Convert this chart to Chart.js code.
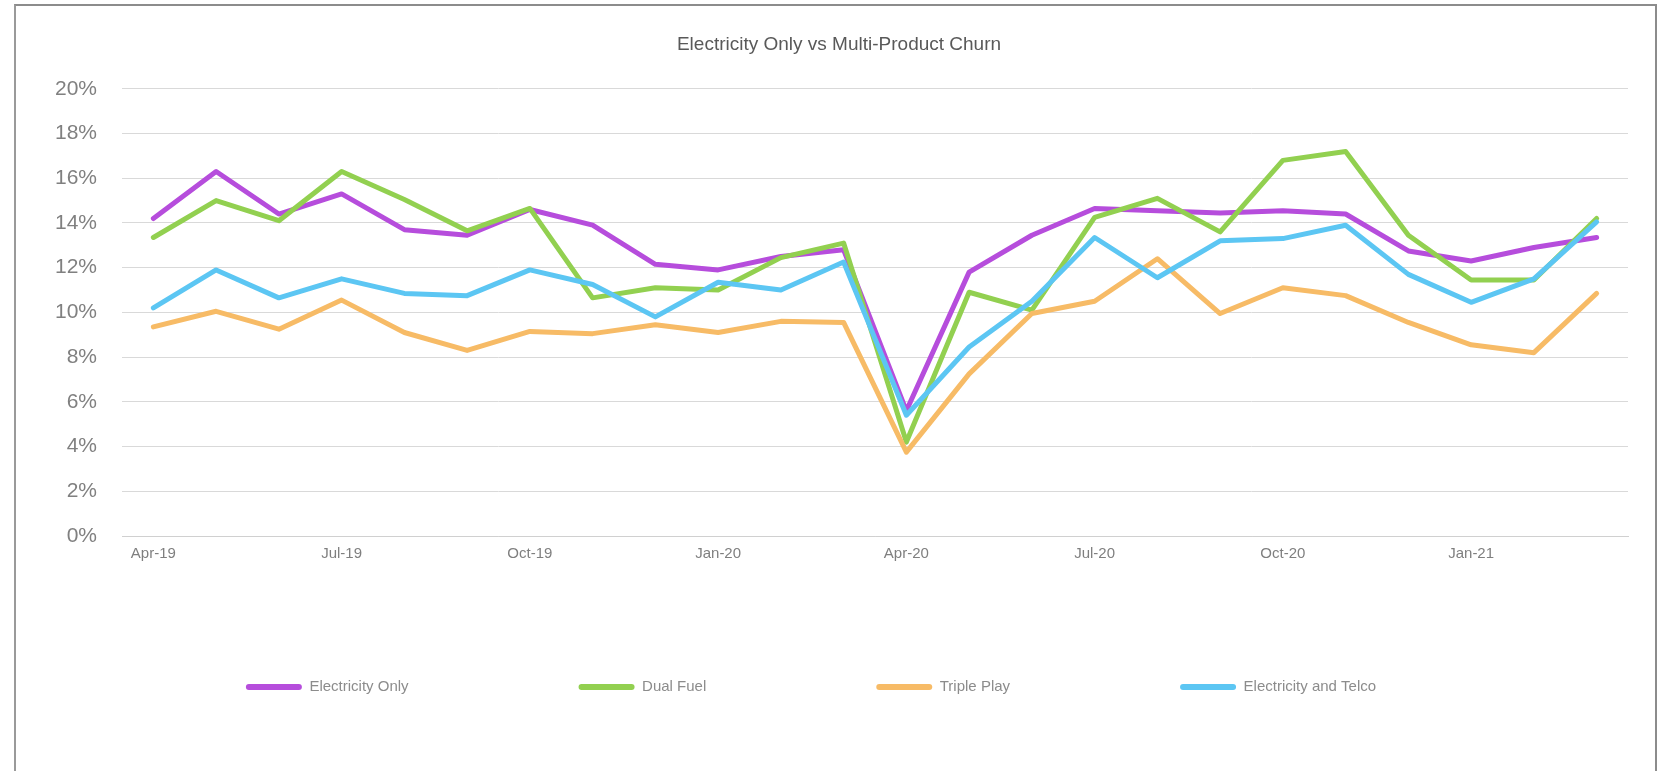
<!DOCTYPE html>
<html>
<head>
<meta charset="utf-8">
<script src="https://cdn.jsdelivr.net/npm/chart.js@4/dist/chart.umd.min.js"></script>
<style>
  html, body { margin: 0; padding: 0; background: #fff; overflow: hidden; }
  #wrap { position: relative; width: 1662px; height: 771px; }
  #frame { position: absolute; left: 14px; top: 4px; width: 1639px; height: 800px;
           border-top: 2px solid #8c8c8c; border-left: 2px solid #9a9a9a; border-right: 2px solid #8c8c8c; }
  canvas { position: absolute; left: 0; top: 0; }
</style>
</head>
<body>
<div id="wrap">
  <div id="frame"></div>
  <canvas id="grafico" width="1662" height="771"></canvas>
</div>
<script>
const meses = ['Apr-19', 'May-19', 'Jun-19', 'Jul-19', 'Aug-19', 'Sep-19', 'Oct-19', 'Nov-19',
  'Dec-19', 'Jan-20', 'Feb-20', 'Mar-20', 'Apr-20', 'May-20', 'Jun-20', 'Jul-20',
  'Aug-20', 'Sep-20', 'Oct-20', 'Nov-20', 'Dec-20', 'Jan-21', 'Feb-21', 'Mar-21'];

// churn in %
const elecOnly = [14.2, 16.3, 14.4, 15.3, 13.7, 13.45, 14.6, 13.9, 12.15, 11.9, 12.5, 12.8,
  5.6, 11.8, 13.45, 14.65, 14.55, 14.45, 14.55, 14.4, 12.75, 12.3, 12.9, 13.35];
const dualFuel = [13.35, 15.0, 14.1, 16.3, 15.05, 13.65, 14.65, 10.65, 11.1, 11.0, 12.45, 13.1,
  4.2, 10.9, 10.1, 14.25, 15.1, 13.6, 16.8, 17.2, 13.45, 11.45, 11.45, 14.2];
const triplePlay = [9.35, 10.05, 9.25, 10.55, 9.1, 8.3, 9.15, 9.05, 9.45, 9.1, 9.6, 9.55,
  3.75, 7.25, 9.95, 10.5, 12.4, 9.95, 11.1, 10.75, 9.55, 8.55, 8.2, 10.85];
const elecTelco = [10.2, 11.9, 10.65, 11.5, 10.85, 10.75, 11.9, 11.25, 9.8, 11.35, 11.0, 12.25,
  5.4, 8.45, 10.5, 13.35, 11.55, 13.2, 13.3, 13.9, 11.7, 10.45, 11.5, 14.05];

const nomesSeries = ['Electricity Only', 'Dual Fuel', 'Triple Play', 'Electricity and Telco'];
const cores = ['#b64ddc', '#92d050', '#f7bb66', '#5cc6f3'];
const yTicks = [0, 2, 4, 6, 8, 10, 12, 14, 16, 18, 20];

const LEGEND_Y = 687;   // centre line of the legend row
const LEGEND_DX = -28;

function linha(i, dados) {
  return {
    label: nomesSeries[i],
    data: dados,
    borderColor: cores[i],
    backgroundColor: cores[i],
    borderWidth: 5,
    borderJoinStyle: 'round',
    borderCapStyle: 'round',
    pointRadius: 0,
    tension: 0,
    order: 4 - i   // later series on top, like the original
  };
}

// move the legend row down into the empty band under the axis
// (the legend clips to its own box, so the box is stretched too)
const moverLegenda = {
  id: 'moverLegenda',
  afterLayout(chart) {
    const lg = chart.legend;
    const pad = lg.options.labels.padding;
    const fs = 15;
    lg.top = LEGEND_Y - pad - fs / 2;
    lg.bottom = LEGEND_Y + 20;
    lg.height = lg.bottom - lg.top;
    lg.left += LEGEND_DX;
    lg.right += LEGEND_DX;
  }
};

new Chart(document.getElementById('grafico').getContext('2d'), {
  type: 'line',
  data: {
    labels: meses,
    datasets: [linha(0, elecOnly), linha(1, dualFuel), linha(2, triplePlay), linha(3, elecTelco)]
  },
  options: {
    responsive: false,
    animation: false,
    layout: { padding: { left: 50, right: 34, top: 0, bottom: 169 } },
    plugins: {
      title: {
        display: true,
        text: 'Electricity Only vs Multi-Product Churn',
        color: '#595959',
        font: { family: 'Liberation Sans', size: 19, weight: 'normal' },
        padding: { top: 33, bottom: 33 }
      },
      legend: {
        position: 'bottom',
        maxHeight: 30,
        labels: {
          boxWidth: 56,
          boxHeight: 6,
          useBorderRadius: true,
          borderRadius: 3,
          padding: 170,
          color: '#8c8c8c',
          font: { family: 'Liberation Sans', size: 15 },
          sort: (a, b) => a.datasetIndex - b.datasetIndex,
          generateLabels: (chart) => {
            const itens = Chart.defaults.plugins.legend.labels.generateLabels(chart);
            itens.forEach(it => { it.lineWidth = 0; });
            return itens;
          }
        }
      },
      tooltip: { enabled: false }
    },
    scales: {
      x: {
        offset: true,
        grid: { display: false, drawTicks: false },
        border: { display: true, color: '#d0d0d0', width: 1 },
        ticks: {
          autoSkip: false,
          maxRotation: 0,
          padding: 9,
          color: '#7f7f7f',
          font: { family: 'Liberation Sans', size: 15 },
          callback: (v, i) => (i % 3 === 0 ? meses[i] : '')
        }
      },
      y: {
        min: 0,
        max: 20,
        afterFit: (s) => { s.width = 72; },
        afterBuildTicks: (s) => { s.ticks = yTicks.map(v => ({ value: v })); },
        grid: { color: '#d9d9d9', lineWidth: 1, drawTicks: false },
        border: { display: false },
        ticks: {
          padding: 25,
          color: '#808080',
          font: { family: 'Liberation Sans', size: 21 },
          callback: (v) => v + '%'
        }
      }
    }
  },
  plugins: [moverLegenda]
});
</script>
</body>
</html>
